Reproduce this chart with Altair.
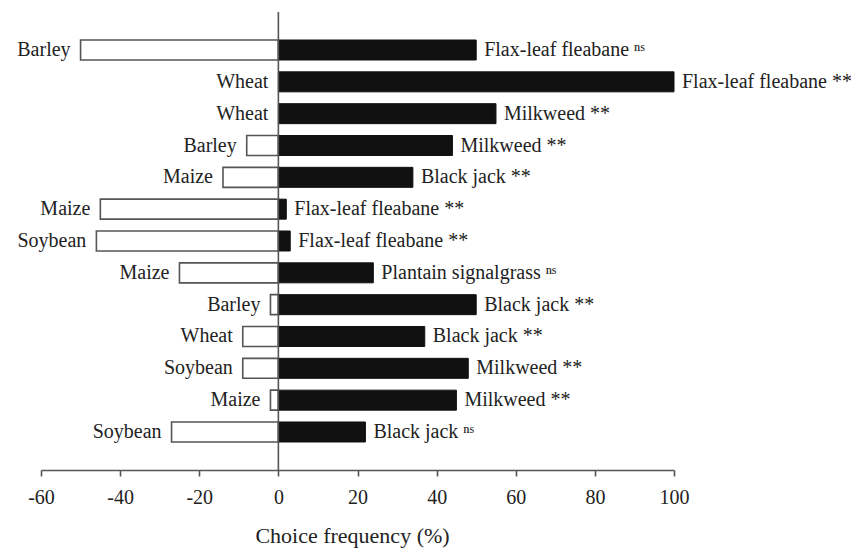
import altair as alt
import pandas as pd

crops = ["Barley", "Wheat", "Wheat", "Barley", "Maize", "Maize", "Soybean",
         "Maize", "Barley", "Wheat", "Soybean", "Maize", "Soybean"]
crop_values = [-50, 0, 0, -8, -14, -45, -46, -25, -2, -9, -9, -2, -27]
weeds = ["Flax-leaf fleabane", "Flax-leaf fleabane", "Milkweed", "Milkweed",
         "Black jack", "Flax-leaf fleabane", "Flax-leaf fleabane",
         "Plantain signalgrass", "Black jack", "Black jack", "Milkweed",
         "Milkweed", "Black jack"]
weed_values = [50, 100, 55, 44, 34, 2, 3, 24, 50, 37, 48, 45, 22]
signif = ["ns", "**", "**", "**", "**", "**", "**", "ns", "**", "**", "**", "**", "ns"]
x_ticks = [-60, -40, -20, 0, 20, 40, 60, 80, 100]

sup = {"ns": "\u207f\u02e2", "**": "**"}
rows = list(range(1, len(crops) + 1))
df = pd.DataFrame({
    "row": rows,
    "crop": crops,
    "crop_value": crop_values,
    "weed": weeds,
    "weed_value": weed_values,
    "weed_label": [f"{w} {sup[s]}" for w, s in zip(weeds, signif)],
    "zero": [0] * len(rows),
})

FONT = "Liberation Serif"
TXT = "#222222"

y_enc = alt.Y("row:O", axis=None,
              scale=alt.Scale(paddingInner=0.372, paddingOuter=0.88))
x_scale = alt.Scale(domain=[-60, 100], nice=False, zero=False)

base = alt.Chart(df)

left_bars = base.transform_filter("datum.crop_value < 0").mark_bar(
    fill="white", stroke="#555555", strokeWidth=1.6
).encode(
    x=alt.X("crop_value:Q", scale=x_scale,
            axis=alt.Axis(values=x_ticks, grid=False, title="Choice frequency (%)",
                          labelExpr="toString(datum.value)",
                          labelFont=FONT, labelFontSize=20, labelColor=TXT,
                          titleFont=FONT, titleFontSize=22, titleFontWeight="normal",
                          titleColor=TXT, titleX=311,
                          domainColor="#555555", tickColor="#555555",
                          domainWidth=1.6, tickWidth=1.6, tickSize=6,
                          labelPadding=11, titlePadding=18, labelFlush=False)),
    x2="zero:Q",
    y=y_enc,
)

right_bars = base.mark_bar(fill="#111111", stroke="#111111", strokeWidth=1).encode(
    x=alt.X("zero:Q", scale=x_scale),
    x2="weed_value:Q",
    y=y_enc,
)

crop_text = base.mark_text(align="right", baseline="middle", dx=-10,
                           font=FONT, fontSize=20, color=TXT).encode(
    x=alt.X("crop_value:Q", scale=x_scale),
    y=y_enc,
    text="crop:N",
)

weed_text = base.mark_text(align="left", baseline="middle", dx=8,
                           font=FONT, fontSize=20, color=TXT).encode(
    x=alt.X("weed_value:Q", scale=x_scale),
    y=y_enc,
    text="weed_label:N",
)

zero_line = alt.Chart(pd.DataFrame({"z": [0]})).mark_rule(
    color="#555555", strokeWidth=1.6
).encode(x=alt.X("z:Q", scale=x_scale))

chart = alt.layer(left_bars, right_bars, zero_line, crop_text, weed_text).properties(
    width=633, height=458,
    autosize=alt.AutoSizeParams(type="none"),
    padding={"left": 33, "top": 4, "right": 177, "bottom": 82},
).configure_view(stroke=None)

chart.save("out.html", embed_options={"renderer": "svg", "actions": False})
